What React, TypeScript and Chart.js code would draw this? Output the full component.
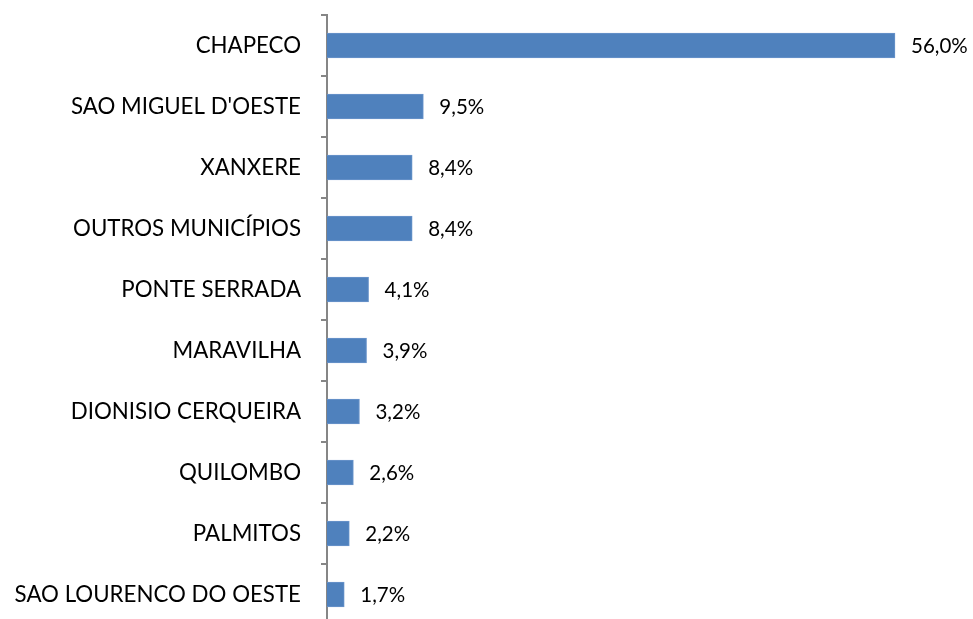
import React, { useEffect, useRef } from "react";
import { Chart, registerables } from "chart.js";

Chart.register(...registerables);

const categories = [
  "CHAPECO",
  "SAO MIGUEL D'OESTE",
  "XANXERE",
  "OUTROS MUNICÍPIOS",
  "PONTE SERRADA",
  "MARAVILHA",
  "DIONISIO CERQUEIRA",
  "QUILOMBO",
  "PALMITOS",
  "SAO LOURENCO DO OESTE",
];
const values = [56.0, 9.5, 8.4, 8.4, 4.1, 3.9, 3.2, 2.6, 2.2, 1.7];

const FONT = "Lato, 'Open Sans', sans-serif";

const labelPlugin = {
  id: "valueLabels",
  afterDatasetsDraw(chart: any) {
    const ctx = chart.ctx;
    const meta = chart.getDatasetMeta(0);
    ctx.save();
    ctx.font = `20.5px ${FONT}`;
    ctx.fillStyle = "#000";
    ctx.textAlign = "left";
    ctx.textBaseline = "middle";
    meta.data.forEach((bar: any, i: number) => {
      const txt = values[i].toFixed(1).replace(".", ",") + "%";
      ctx.fillText(txt, bar.x + 16, bar.y + 1);
    });
    ctx.restore();
  },
};

export default function App() {
  const ref = useRef<HTMLCanvasElement | null>(null);
  useEffect(() => {
    if (!ref.current) return;
    const chart = new Chart(ref.current, {
      type: "bar",
      data: {
        labels: categories,
        datasets: [
          {
            data: values,
            backgroundColor: "#4F81BD",
            borderColor: "#6A95CB",
            borderWidth: 1,
            barThickness: 25,
          },
        ],
      },
      options: {
        indexAxis: "y",
        animation: false,
        responsive: false,
        maintainAspectRatio: false,
        layout: { padding: { top: 15, right: 7, bottom: 5, left: 0 } },
        plugins: { legend: { display: false }, tooltip: { enabled: false } },
        scales: {
          x: { display: false, min: 0, max: 63 },
          y: {
            afterFit(scale: any) {
              scale.width = 327;
              scale.paddingTop = 0;
              scale.paddingBottom = 0;
            },
            border: { display: true, color: "#868686", width: 2 },
            grid: {
              display: true,
              drawOnChartArea: false,
              drawTicks: true,
              tickLength: 6,
              color: "#868686",
              lineWidth: 2,
              offset: true,
            },
            ticks: {
              color: "#000",
              padding: 20,
              font: { family: FONT, size: 22.3 },
            },
          },
        },
      },
      plugins: [labelPlugin],
    });
    return () => chart.destroy();
  }, []);
  return (
    <div style={{ position: "absolute", left: 0, top: 0, width: 973, height: 630 }}>
      <canvas ref={ref} width={973} height={630} style={{ width: 973, height: 630 }} />
    </div>
  );
}
